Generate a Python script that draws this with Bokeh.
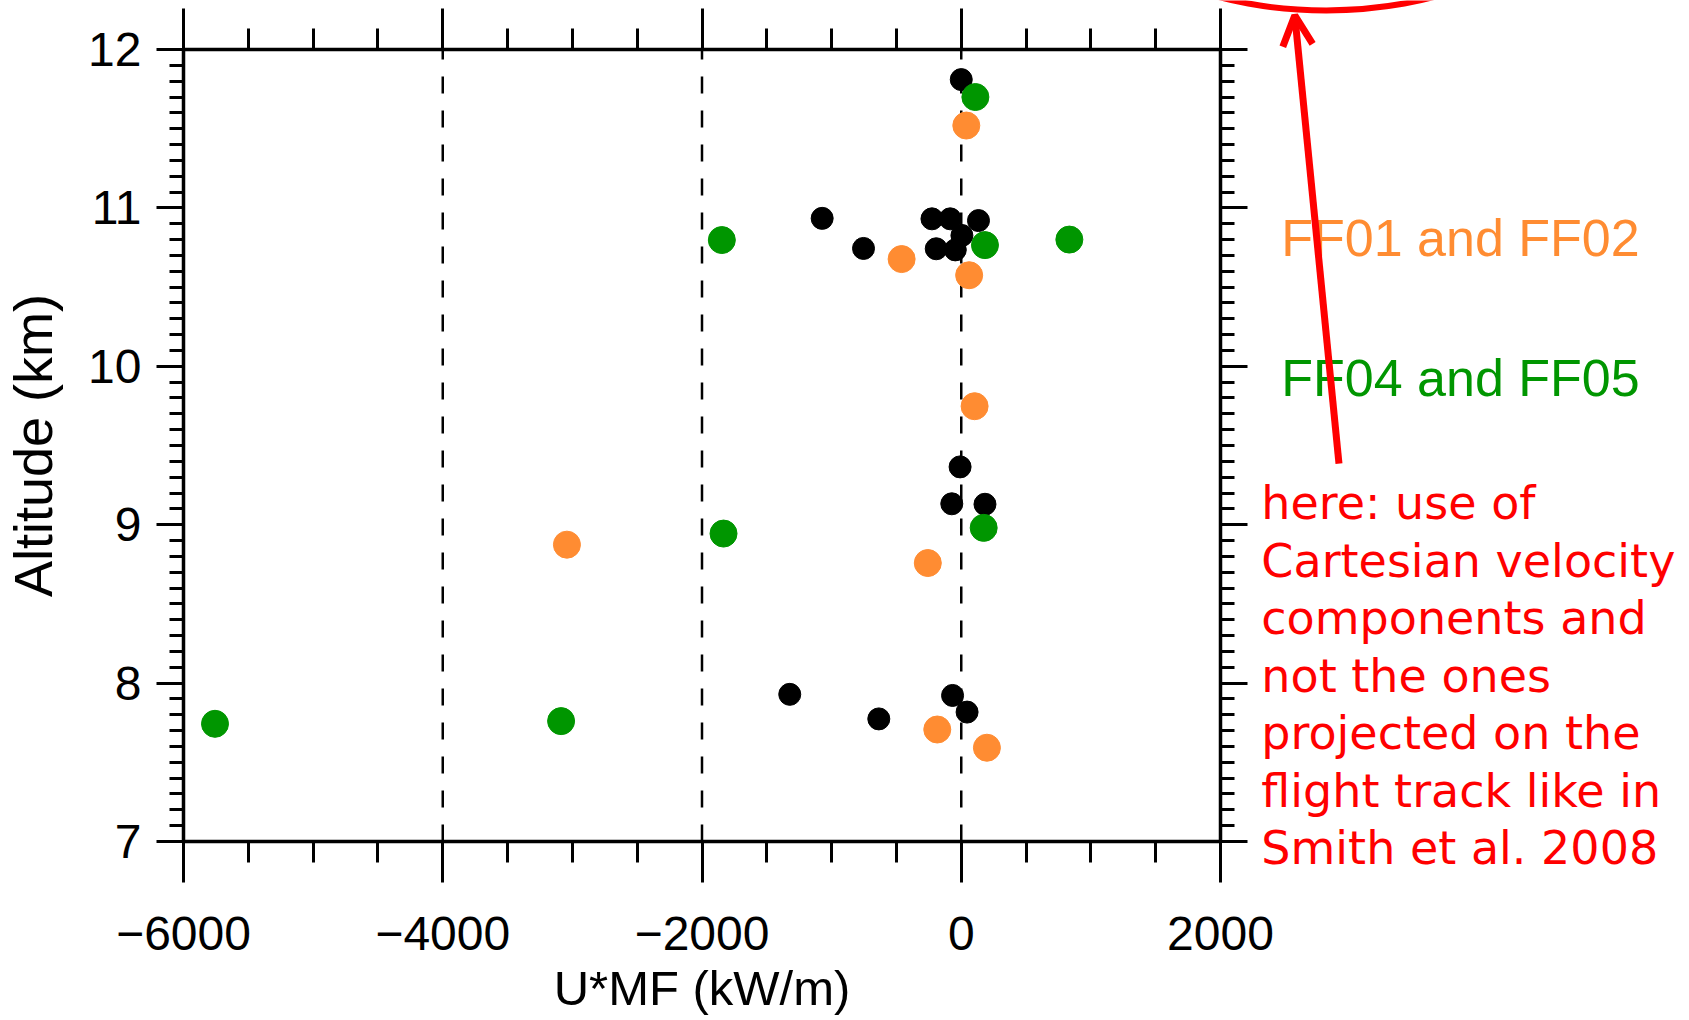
import numpy as np
from bokeh.plotting import figure
from bokeh.models import Range1d, LinearAxis, FixedTicker, Arrow, OpenHead
from bokeh.core.properties import value
from bokeh.embed import file_html
from bokeh.resources import INLINE

# ---------------- data ----------------
black_x = [0, -1073, -754, -226, -85, 133, -193, -46, 5, -9, -73, 183, -1323, -67, 45, -636]
black_y = [11.81, 10.934, 10.744, 10.931, 10.931, 10.920, 10.742, 10.735, 10.826,
           9.365, 9.132, 9.129, 7.929, 7.922, 7.817, 7.774]

orange_x = [39, -460, 61, 103, -3042, -258, -185, 198]
orange_y = [11.52, 10.677, 10.575, 9.748, 8.874, 8.758, 7.707, 7.592]

green_x = [109, -1847, 183, 834, -1834, 173, -5757, -3087]
green_y = [11.70, 10.797, 10.765, 10.80, 8.944, 8.98, 7.743, 7.76]

x_ticks = [-6000, -4000, -2000, 0, 2000]
x_tick_labels = ["\u22126000", "\u22124000", "\u22122000", "0", "2000"]
y_ticks = [7, 8, 9, 10, 11, 12]
y_tick_labels = ["7", "8", "9", "10", "11", "12"]
ref_lines = [-4000, -2000, 0]

x_label = "U*MF (kW/m)"
y_label = "Altitude (km)"
legend_texts = ["FF01 and FF02", "FF04 and FF05"]
note_lines = ["here: use of", "Cartesian velocity", "components and",
              "not the ones", "projected on the", "flight track like in",
              "Smith et al. 2008"]

ORANGE = "#FF8C32"
GREEN = "#009600"
RED = "#FF0000"
FONT = "Liberation Sans"

# ---------------- geometry: the box of the chart inside the page ----------------
W, H = 1689, 1020
BOX_L, BOX_T, BOX_W, BOX_H = 183, 49, 1037, 792
X0, X1 = -6000, 2000
Y0, Y1 = 7, 12
sx = BOX_W / (X1 - X0)
sy = BOX_H / (Y1 - Y0)

# the frame covers the whole page, so the notes outside the box are not clipped
p = figure(frame_width=W, frame_height=H, min_border=0,
           x_range=Range1d(X0 - BOX_L / sx, X0 + (W - BOX_L) / sx),
           y_range=Range1d(Y0 - (H - BOX_T - BOX_H) / sy, Y1 + BOX_T / sy),
           output_backend="svg", toolbar_location=None,
           x_axis_location=None, y_axis_location=None)
p.title.visible = False
p.background_fill_color = "white"
p.border_fill_color = "white"
p.outline_line_color = None
p.grid.visible = False

x_minor = [float(v) for v in np.arange(X0, X1 + 1, 500)]
y_minor = [float(v) for v in np.round(np.arange(Y0, Y1 + 0.0001, 0.1), 2)]


def make_axis(kind, labels, loc):
    if kind == "x":
        ax = LinearAxis(ticker=FixedTicker(ticks=x_ticks, minor_ticks=x_minor),
                        bounds=(X0, X1), fixed_location=loc)
        ax.major_tick_out = 41
        ax.minor_tick_out = 21
        ticks, texts = x_ticks, x_tick_labels
    else:
        ax = LinearAxis(ticker=FixedTicker(ticks=y_ticks, minor_ticks=y_minor),
                        bounds=(Y0, Y1), fixed_location=loc)
        ax.major_tick_out = 27
        ax.minor_tick_out = 14
        ticks, texts = y_ticks, y_tick_labels
    if labels:
        ax.major_label_overrides = dict(zip(ticks, texts))
        ax.major_label_text_font_size = "48px"
    else:
        ax.major_label_overrides = {t: "" for t in ticks}
        ax.major_label_text_font_size = "2px"
        ax.major_label_standoff = 0
    ax.major_tick_in = 0
    ax.minor_tick_in = 0
    ax.axis_line_width = 3.5
    ax.major_tick_line_width = 3
    ax.minor_tick_line_width = 3
    for attr in ("axis_line_color", "major_tick_line_color", "minor_tick_line_color",
                 "major_label_text_color", "axis_label_text_color"):
        setattr(ax, attr, "black")
    ax.major_label_text_font = FONT
    ax.axis_label_text_font = FONT
    ax.axis_label_text_font_style = "normal"
    return ax


bottom = make_axis("x", True, Y0)
bottom.axis_label = x_label
bottom.axis_label_text_font_size = "49px"
bottom.major_label_standoff = 34
bottom.axis_label_standoff = 8
p.add_layout(bottom, "below")

p.add_layout(make_axis("x", False, Y1), "above")

left = make_axis("y", True, X0)
left.axis_label = y_label
left.axis_label_text_font_size = "54px"
left.major_label_standoff = 15
left.axis_label_standoff = 22
p.add_layout(left, "left")

p.add_layout(make_axis("y", False, X1), "right")

# dashed reference lines inside the box
p.segment(x0=ref_lines, y0=[Y0] * len(ref_lines), x1=ref_lines, y1=[Y1] * len(ref_lines),
          line_color="black", line_width=2.5, line_dash="17 17")

p.scatter(black_x, black_y, size=22, color="black")
p.scatter(orange_x, orange_y, size=27, color=ORANGE)
p.scatter(green_x, green_y, size=27, color=GREEN)

# ---------------- notes to the right of the box ----------------
p.text(x=[2469, 2469], y=[10.81, 9.926], text=legend_texts,
       text_color=[ORANGE, GREEN], text_font=value(FONT), text_font_size="52px",
       text_baseline="alphabetic", text_align="left")

note_y = [9.134 - i * 0.363 for i in range(len(note_lines))]
p.text(x=[2315] * len(note_lines), y=note_y, text=note_lines, text_color=RED,
       text_font=value("DejaVu Sans"), text_font_size="46px",
       text_baseline="alphabetic", text_align="left")

p.add_layout(Arrow(end=OpenHead(size=30, line_width=7, line_color=RED),
                   x_start=2914, y_start=9.386, x_end=2573, y_end=12.215,
                   line_width=7, line_color=RED))

p.ellipse(x=[2816], y=[12.859], width=[3271], height=[1.224],
          fill_alpha=0, line_color=RED, line_width=6)

open("out.html", "w").write(file_html(p, INLINE))
